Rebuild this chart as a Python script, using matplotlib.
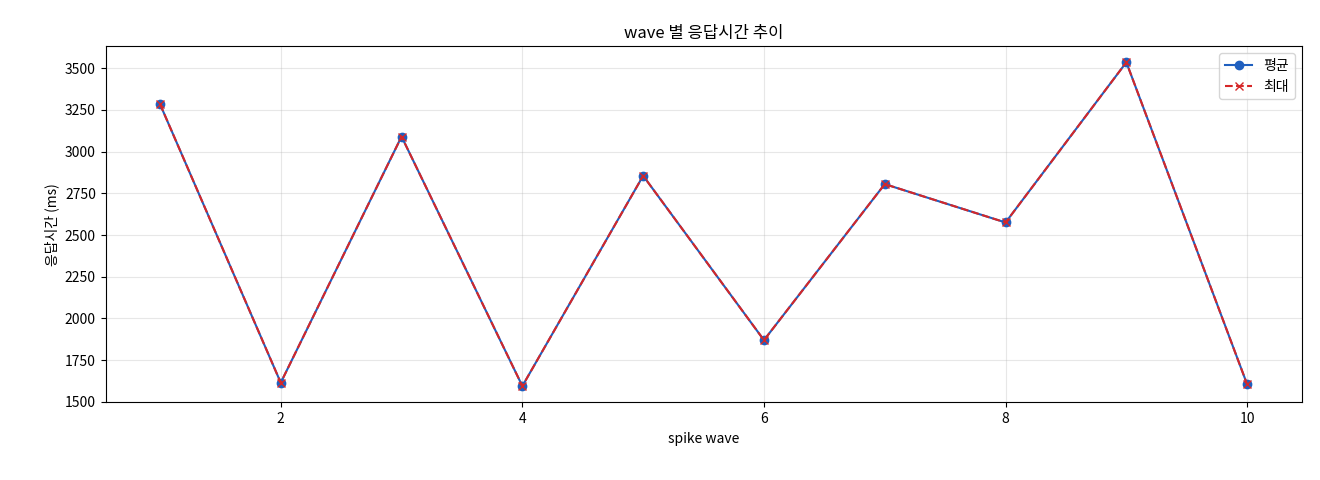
import matplotlib
matplotlib.use("Agg")
import matplotlib.pyplot as plt

plt.rcParams['font.family'] = ['Noto Sans CJK KR', 'DejaVu Sans']

waves = [1, 2, 3, 4, 5, 6, 7, 8, 9, 10]
avg_ms = [3285, 1615, 3090, 1595, 2855, 1870, 2805, 2575, 3535, 1605]
max_ms = [3285, 1615, 3090, 1595, 2855, 1870, 2805, 2575, 3535, 1605]

fig, ax = plt.subplots(figsize=(13.2, 4.8), dpi=100)
ax.plot(waves, avg_ms, marker='o', color='#1f5fbf', label='평균', markersize=6)
ax.plot(waves, max_ms, marker='x', linestyle='--', color='#d62728', label='최대', markersize=6)
ax.set_title('wave 별 응답시간 추이')
ax.set_xlabel('spike wave')
ax.set_ylabel('응답시간 (ms)')
ax.grid(True, alpha=0.3)
ax.legend(loc='upper right')
fig.subplots_adjust(left=0.08, right=0.986, top=0.904, bottom=0.162)
fig.savefig('out.png')
